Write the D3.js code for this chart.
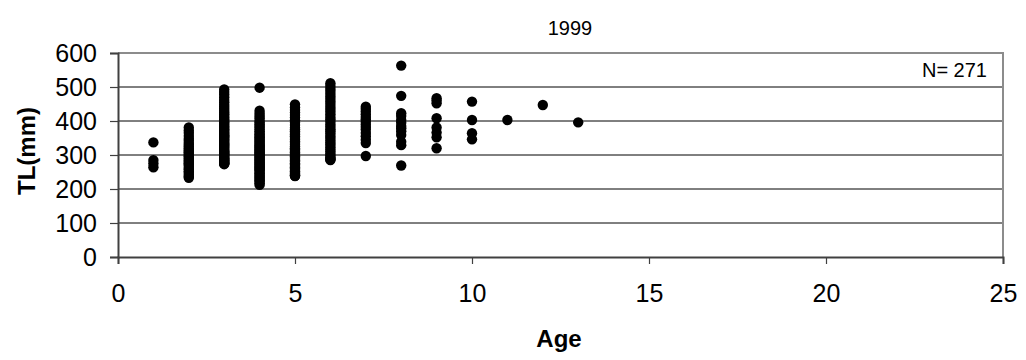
<!DOCTYPE html>
<html>
<head>
<meta charset="utf-8">
<script src="https://cdn.jsdelivr.net/npm/d3@7"></script>
<style>
  body { margin: 0; background: #fff; }
  text { font-family: "Liberation Sans", Arial, sans-serif; fill: #000; }
</style>
</head>
<body>
<svg id="chart" width="1026" height="360"></svg>
<script>
// total length (mm) of each fish, grouped by age
const ages = [1, 2, 3, 4, 5, 6, 7, 8, 9, 10, 11, 12, 13];
const tlByAge = [
    [337, 285, 275, 264],
    [381, 372, 365, 356, 348, 342, 335, 330, 325, 320, 315, 312, 308, 304, 300, 296, 292, 288, 284, 280, 276, 272, 268, 262, 258, 252, 248, 242, 237, 233],
    [493, 485, 478, 470, 462, 455, 448, 442, 436, 430, 425, 420, 415, 410, 405, 400, 396, 392, 388, 384, 380, 376, 372, 368, 365, 362, 358, 355, 352, 348,
     345, 342, 338, 335, 332, 330, 327, 324, 321, 318, 315, 312, 310, 307, 305, 302, 300, 298, 295, 292, 290, 288, 286, 284, 282, 280, 278, 276, 275, 273],
    [498, 430, 422, 415, 408, 400, 395, 390, 385, 380, 375, 370, 365, 360, 356, 352, 348, 344, 340, 336, 332, 328, 325, 322, 318, 315, 312,
     308, 305, 302, 298, 295, 292, 288, 285, 282, 278, 275, 272, 268, 265, 262, 258, 255, 250, 246, 242, 238, 234, 230, 226, 222, 217, 212],
    [449, 440, 432, 425, 418, 410, 402, 395, 388, 380, 375, 370, 365, 360, 355, 350, 345, 340, 335, 330, 325, 320, 316, 312, 308, 304, 300,
     296, 292, 288, 284, 280, 276, 272, 268, 264, 260, 256, 252, 248, 245, 242, 240, 239, 238],
    [511, 503, 495, 488, 480, 472, 465, 457, 450, 442, 435, 428, 420, 412, 405, 398, 390, 383, 376, 370, 363, 356, 350, 343, 336, 330, 323,
     316, 310, 304, 298, 293, 289, 287, 285],
    [442, 435, 428, 420, 412, 405, 398, 390, 382, 375, 365, 355, 345, 335, 297],
    [563, 474, 423, 415, 403, 395, 385, 379, 370, 359, 339, 329, 269],
    [467, 460, 452, 408, 381, 366, 352, 320],
    [457, 403, 364, 346],
    [403],
    [447],
    [396]
];
const xTicks = [0, 5, 10, 15, 20, 25];
const yTicks = [0, 100, 200, 300, 400, 500, 600];
const chartTitle = "1999";
const xTitle = "Age";
const yTitle = "TL(mm)";

const points = [];
ages.forEach((a, i) => tlByAge[i].forEach(v => points.push({age: a, tl: v})));
const nLabel = "N= " + points.length;

const svg = d3.select("#chart");
const plot = {left: 118, right: 1003, top: 53, bottom: 257};

const x = d3.scaleLinear().domain([0, 25]).range([plot.left, plot.right]);
const y = d3.scaleLinear().domain([0, 600]).range([plot.bottom, plot.top]);

// horizontal gridlines
svg.append("g")
    .selectAll("line")
    .data(yTicks.filter(d => d > 0 && d < 600))
    .join("line")
    .attr("x1", plot.left).attr("x2", plot.right)
    .attr("y1", d => y(d)).attr("y2", d => y(d))
    .attr("stroke", "#000")
    .attr("stroke-width", 1);

// top + right border
svg.append("path")
    .attr("d", `M${plot.left},${plot.top}H${plot.right}V${plot.bottom}`)
    .attr("fill", "none")
    .attr("stroke", "#8c8c8c")
    .attr("stroke-width", 2);

// axes
const yAxis = svg.append("g")
    .attr("transform", `translate(${plot.left},0)`)
    .call(d3.axisLeft(y).tickValues(yTicks).tickSize(8).tickPadding(13));
const xAxis = svg.append("g")
    .attr("transform", `translate(0,${plot.bottom})`)
    .call(d3.axisBottom(x).tickValues(xTicks).tickSize(7).tickPadding(20));

[yAxis, xAxis].forEach(g => {
    g.select(".domain").attr("stroke", "#404040").attr("stroke-width", 2);
    g.selectAll(".tick line").attr("stroke", "#404040").attr("stroke-width", 1.2);
    g.selectAll(".tick text")
        .attr("font-family", "Liberation Sans, Arial, sans-serif")
        .attr("font-size", 25)
        .attr("fill", "#000");
});

// points
svg.append("g")
    .selectAll("circle")
    .data(points)
    .join("circle")
    .attr("cx", d => x(d.age))
    .attr("cy", d => y(d.tl))
    .attr("r", 5.2)
    .attr("fill", "#000");

// texts
svg.append("text")
    .attr("x", 570).attr("y", 35)
    .attr("text-anchor", "middle")
    .attr("font-size", 20)
    .text(chartTitle);

svg.append("text")
    .attr("x", 987).attr("y", 77)
    .attr("text-anchor", "end")
    .attr("font-size", 20)
    .text(nLabel);

svg.append("text")
    .attr("x", 559).attr("y", 347)
    .attr("text-anchor", "middle")
    .attr("font-size", 24)
    .attr("font-weight", "bold")
    .text(xTitle);

svg.append("text")
    .attr("transform", "translate(35,151) rotate(-90)")
    .attr("text-anchor", "middle")
    .attr("font-size", 24)
    .attr("font-weight", "bold")
    .text(yTitle);
</script>
</body>
</html>
